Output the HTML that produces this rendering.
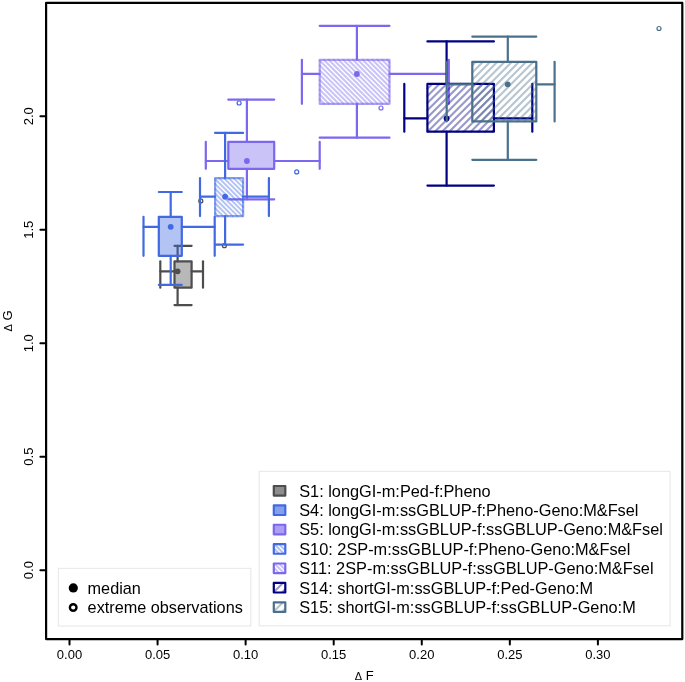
<!DOCTYPE html>
<html><head><meta charset="utf-8"><title>plot</title>
<style>html,body{margin:0;padding:0;background:#fff}svg{display:block;will-change:transform}text{font-family:"Liberation Sans",sans-serif;fill:#000}</style></head><body>
<svg width="685" height="682" viewBox="0 0 685 682">
<rect x="0" y="0" width="685" height="682" fill="#fff"/>
<rect x="46.1" y="2.9" width="636.1999999999999" height="636.2" fill="none" stroke="#000" stroke-width="2.2" stroke-linejoin="round"/>
<line x1="69.50" y1="639.1" x2="69.50" y2="644.6" stroke="#000" stroke-width="2" stroke-linecap="round"/>
<text x="69.50" y="658.7" font-size="13" text-anchor="middle">0.00</text>
<line x1="157.57" y1="639.1" x2="157.57" y2="644.6" stroke="#000" stroke-width="2" stroke-linecap="round"/>
<text x="157.57" y="658.7" font-size="13" text-anchor="middle">0.05</text>
<line x1="245.63" y1="639.1" x2="245.63" y2="644.6" stroke="#000" stroke-width="2" stroke-linecap="round"/>
<text x="245.63" y="658.7" font-size="13" text-anchor="middle">0.10</text>
<line x1="333.70" y1="639.1" x2="333.70" y2="644.6" stroke="#000" stroke-width="2" stroke-linecap="round"/>
<text x="333.70" y="658.7" font-size="13" text-anchor="middle">0.15</text>
<line x1="421.77" y1="639.1" x2="421.77" y2="644.6" stroke="#000" stroke-width="2" stroke-linecap="round"/>
<text x="421.77" y="658.7" font-size="13" text-anchor="middle">0.20</text>
<line x1="509.83" y1="639.1" x2="509.83" y2="644.6" stroke="#000" stroke-width="2" stroke-linecap="round"/>
<text x="509.83" y="658.7" font-size="13" text-anchor="middle">0.25</text>
<line x1="597.90" y1="639.1" x2="597.90" y2="644.6" stroke="#000" stroke-width="2" stroke-linecap="round"/>
<text x="597.90" y="658.7" font-size="13" text-anchor="middle">0.30</text>
<line x1="46.1" y1="570.15" x2="40.4" y2="570.15" stroke="#000" stroke-width="2" stroke-linecap="round"/>
<text transform="translate(33.4 570.15) rotate(-90)" font-size="13" text-anchor="middle">0.0</text>
<line x1="46.1" y1="456.67" x2="40.4" y2="456.67" stroke="#000" stroke-width="2" stroke-linecap="round"/>
<text transform="translate(33.4 456.67) rotate(-90)" font-size="13" text-anchor="middle">0.5</text>
<line x1="46.1" y1="343.20" x2="40.4" y2="343.20" stroke="#000" stroke-width="2" stroke-linecap="round"/>
<text transform="translate(33.4 343.20) rotate(-90)" font-size="13" text-anchor="middle">1.0</text>
<line x1="46.1" y1="229.73" x2="40.4" y2="229.73" stroke="#000" stroke-width="2" stroke-linecap="round"/>
<text transform="translate(33.4 229.73) rotate(-90)" font-size="13" text-anchor="middle">1.5</text>
<line x1="46.1" y1="116.25" x2="40.4" y2="116.25" stroke="#000" stroke-width="2" stroke-linecap="round"/>
<text transform="translate(33.4 116.25) rotate(-90)" font-size="13" text-anchor="middle">2.0</text>
<text x="364.2" y="679.6" font-size="13" text-anchor="middle"><tspan font-size="11">Δ</tspan> F</text>
<text transform="translate(12 321) rotate(-90)" font-size="13" text-anchor="middle"><tspan font-size="11">Δ</tspan> G</text>
<g>
<rect x="174.5" y="261.3" width="17.10" height="26.40" fill="#4d4d4d" fill-opacity="0.4" stroke="none"/>
<rect x="174.5" y="261.3" width="17.10" height="26.40" fill="none" stroke="#4d4d4d" stroke-width="2.2" stroke-linejoin="round"/>
<line x1="177.6" y1="245.8" x2="177.6" y2="261.3" stroke="#4d4d4d" stroke-width="2.2" stroke-linecap="round"/>
<line x1="177.6" y1="287.7" x2="177.6" y2="305.1" stroke="#4d4d4d" stroke-width="2.2" stroke-linecap="round"/>
<line x1="174.5" y1="245.8" x2="191.6" y2="245.8" stroke="#4d4d4d" stroke-width="2.2" stroke-linecap="round"/>
<line x1="174.5" y1="305.1" x2="191.6" y2="305.1" stroke="#4d4d4d" stroke-width="2.2" stroke-linecap="round"/>
<line x1="160.3" y1="271.3" x2="174.5" y2="271.3" stroke="#4d4d4d" stroke-width="2.2" stroke-linecap="round"/>
<line x1="191.6" y1="271.3" x2="203.0" y2="271.3" stroke="#4d4d4d" stroke-width="2.2" stroke-linecap="round"/>
<line x1="160.3" y1="261.3" x2="160.3" y2="287.7" stroke="#4d4d4d" stroke-width="2.2" stroke-linecap="round"/>
<line x1="203.0" y1="261.3" x2="203.0" y2="287.7" stroke="#4d4d4d" stroke-width="2.2" stroke-linecap="round"/>
<circle cx="177.6" cy="271.3" r="2.9" fill="#4d4d4d"/>
<circle cx="200.8" cy="200.9" r="2.0" fill="none" stroke="#4d4d4d" stroke-width="1.2"/>
<circle cx="224.4" cy="245.7" r="2.0" fill="none" stroke="#4d4d4d" stroke-width="1.2"/>
</g>
<g>
<rect x="158.8" y="216.8" width="23.00" height="39.00" fill="#4169e1" fill-opacity="0.4" stroke="none"/>
<rect x="158.8" y="216.8" width="23.00" height="39.00" fill="none" stroke="#4169e1" stroke-width="2.2" stroke-linejoin="round"/>
<line x1="170.7" y1="192.0" x2="170.7" y2="216.8" stroke="#4169e1" stroke-width="2.2" stroke-linecap="round"/>
<line x1="170.7" y1="255.8" x2="170.7" y2="284.8" stroke="#4169e1" stroke-width="2.2" stroke-linecap="round"/>
<line x1="158.8" y1="192.0" x2="181.8" y2="192.0" stroke="#4169e1" stroke-width="2.2" stroke-linecap="round"/>
<line x1="158.8" y1="284.8" x2="181.8" y2="284.8" stroke="#4169e1" stroke-width="2.2" stroke-linecap="round"/>
<line x1="143.5" y1="226.9" x2="158.8" y2="226.9" stroke="#4169e1" stroke-width="2.2" stroke-linecap="round"/>
<line x1="181.8" y1="226.9" x2="214.7" y2="226.9" stroke="#4169e1" stroke-width="2.2" stroke-linecap="round"/>
<line x1="143.5" y1="216.8" x2="143.5" y2="255.8" stroke="#4169e1" stroke-width="2.2" stroke-linecap="round"/>
<line x1="214.7" y1="216.8" x2="214.7" y2="255.8" stroke="#4169e1" stroke-width="2.2" stroke-linecap="round"/>
<circle cx="170.7" cy="226.8" r="2.9" fill="#4169e1"/>
<circle cx="239.1" cy="103.0" r="2.0" fill="none" stroke="#4169e1" stroke-width="1.2"/>
<circle cx="296.7" cy="171.9" r="2.0" fill="none" stroke="#4169e1" stroke-width="1.2"/>
</g>
<g>
<rect x="228.3" y="141.9" width="45.90" height="26.90" fill="#7b68ee" fill-opacity="0.4" stroke="none"/>
<rect x="228.3" y="141.9" width="45.90" height="26.90" fill="none" stroke="#7b68ee" stroke-width="2.2" stroke-linejoin="round"/>
<line x1="246.9" y1="99.6" x2="246.9" y2="141.9" stroke="#7b68ee" stroke-width="2.2" stroke-linecap="round"/>
<line x1="246.9" y1="168.8" x2="246.9" y2="199.3" stroke="#7b68ee" stroke-width="2.2" stroke-linecap="round"/>
<line x1="228.3" y1="99.6" x2="274.2" y2="99.6" stroke="#7b68ee" stroke-width="2.2" stroke-linecap="round"/>
<line x1="228.3" y1="199.3" x2="274.2" y2="199.3" stroke="#7b68ee" stroke-width="2.2" stroke-linecap="round"/>
<line x1="205.8" y1="161.0" x2="228.3" y2="161.0" stroke="#7b68ee" stroke-width="2.2" stroke-linecap="round"/>
<line x1="274.2" y1="161.0" x2="319.7" y2="161.0" stroke="#7b68ee" stroke-width="2.2" stroke-linecap="round"/>
<line x1="205.8" y1="141.9" x2="205.8" y2="168.8" stroke="#7b68ee" stroke-width="2.2" stroke-linecap="round"/>
<line x1="319.7" y1="141.9" x2="319.7" y2="168.8" stroke="#7b68ee" stroke-width="2.2" stroke-linecap="round"/>
<circle cx="246.9" cy="161.0" r="2.9" fill="#7b68ee"/>
</g>
<g>
<line x1="215.10" y1="212.97" x2="218.23" y2="216.10" stroke="#4169e1" stroke-opacity="0.4" stroke-width="2.0" stroke-linecap="round"/>
<line x1="215.10" y1="208.12" x2="223.08" y2="216.10" stroke="#4169e1" stroke-opacity="0.4" stroke-width="2.0" stroke-linecap="round"/>
<line x1="215.10" y1="203.27" x2="227.93" y2="216.10" stroke="#4169e1" stroke-opacity="0.4" stroke-width="2.0" stroke-linecap="round"/>
<line x1="215.10" y1="198.42" x2="232.78" y2="216.10" stroke="#4169e1" stroke-opacity="0.4" stroke-width="2.0" stroke-linecap="round"/>
<line x1="215.10" y1="193.57" x2="237.63" y2="216.10" stroke="#4169e1" stroke-opacity="0.4" stroke-width="2.0" stroke-linecap="round"/>
<line x1="215.10" y1="188.72" x2="242.48" y2="216.10" stroke="#4169e1" stroke-opacity="0.4" stroke-width="2.0" stroke-linecap="round"/>
<line x1="215.10" y1="183.87" x2="243.10" y2="211.87" stroke="#4169e1" stroke-opacity="0.4" stroke-width="2.0" stroke-linecap="round"/>
<line x1="215.10" y1="179.02" x2="243.10" y2="207.02" stroke="#4169e1" stroke-opacity="0.4" stroke-width="2.0" stroke-linecap="round"/>
<line x1="219.03" y1="178.10" x2="243.10" y2="202.17" stroke="#4169e1" stroke-opacity="0.4" stroke-width="2.0" stroke-linecap="round"/>
<line x1="223.88" y1="178.10" x2="243.10" y2="197.32" stroke="#4169e1" stroke-opacity="0.4" stroke-width="2.0" stroke-linecap="round"/>
<line x1="228.73" y1="178.10" x2="243.10" y2="192.47" stroke="#4169e1" stroke-opacity="0.4" stroke-width="2.0" stroke-linecap="round"/>
<line x1="233.58" y1="178.10" x2="243.10" y2="187.62" stroke="#4169e1" stroke-opacity="0.4" stroke-width="2.0" stroke-linecap="round"/>
<line x1="238.43" y1="178.10" x2="243.10" y2="182.77" stroke="#4169e1" stroke-opacity="0.4" stroke-width="2.0" stroke-linecap="round"/>
<rect x="215.1" y="178.1" width="28.00" height="38.00" fill="none" stroke="#4169e1" stroke-opacity="0.62" stroke-width="2.2" stroke-linejoin="round"/>
<line x1="225.1" y1="132.9" x2="225.1" y2="178.1" stroke="#4169e1" stroke-width="2.2" stroke-linecap="round"/>
<line x1="225.1" y1="216.1" x2="225.1" y2="244.6" stroke="#4169e1" stroke-width="2.2" stroke-linecap="round"/>
<line x1="215.1" y1="132.9" x2="243.1" y2="132.9" stroke="#4169e1" stroke-width="2.2" stroke-linecap="round"/>
<line x1="215.1" y1="244.6" x2="243.1" y2="244.6" stroke="#4169e1" stroke-width="2.2" stroke-linecap="round"/>
<line x1="200.0" y1="196.7" x2="215.1" y2="196.7" stroke="#4169e1" stroke-width="2.2" stroke-linecap="round"/>
<line x1="243.1" y1="196.7" x2="268.9" y2="196.7" stroke="#4169e1" stroke-width="2.2" stroke-linecap="round"/>
<line x1="200.0" y1="178.1" x2="200.0" y2="216.1" stroke="#4169e1" stroke-width="2.2" stroke-linecap="round"/>
<line x1="268.9" y1="178.1" x2="268.9" y2="216.1" stroke="#4169e1" stroke-width="2.2" stroke-linecap="round"/>
<circle cx="225.1" cy="196.7" r="2.9" fill="#4169e1"/>
</g>
<g>
<line x1="319.70" y1="99.32" x2="324.18" y2="103.80" stroke="#7b68ee" stroke-opacity="0.4" stroke-width="2.0" stroke-linecap="round"/>
<line x1="319.70" y1="94.47" x2="329.03" y2="103.80" stroke="#7b68ee" stroke-opacity="0.4" stroke-width="2.0" stroke-linecap="round"/>
<line x1="319.70" y1="89.62" x2="333.88" y2="103.80" stroke="#7b68ee" stroke-opacity="0.4" stroke-width="2.0" stroke-linecap="round"/>
<line x1="319.70" y1="84.77" x2="338.73" y2="103.80" stroke="#7b68ee" stroke-opacity="0.4" stroke-width="2.0" stroke-linecap="round"/>
<line x1="319.70" y1="79.92" x2="343.58" y2="103.80" stroke="#7b68ee" stroke-opacity="0.4" stroke-width="2.0" stroke-linecap="round"/>
<line x1="319.70" y1="75.07" x2="348.43" y2="103.80" stroke="#7b68ee" stroke-opacity="0.4" stroke-width="2.0" stroke-linecap="round"/>
<line x1="319.70" y1="70.22" x2="353.28" y2="103.80" stroke="#7b68ee" stroke-opacity="0.4" stroke-width="2.0" stroke-linecap="round"/>
<line x1="319.70" y1="65.37" x2="358.13" y2="103.80" stroke="#7b68ee" stroke-opacity="0.4" stroke-width="2.0" stroke-linecap="round"/>
<line x1="319.70" y1="60.52" x2="362.98" y2="103.80" stroke="#7b68ee" stroke-opacity="0.4" stroke-width="2.0" stroke-linecap="round"/>
<line x1="323.83" y1="59.80" x2="367.83" y2="103.80" stroke="#7b68ee" stroke-opacity="0.4" stroke-width="2.0" stroke-linecap="round"/>
<line x1="328.68" y1="59.80" x2="372.68" y2="103.80" stroke="#7b68ee" stroke-opacity="0.4" stroke-width="2.0" stroke-linecap="round"/>
<line x1="333.53" y1="59.80" x2="377.53" y2="103.80" stroke="#7b68ee" stroke-opacity="0.4" stroke-width="2.0" stroke-linecap="round"/>
<line x1="338.38" y1="59.80" x2="382.38" y2="103.80" stroke="#7b68ee" stroke-opacity="0.4" stroke-width="2.0" stroke-linecap="round"/>
<line x1="343.23" y1="59.80" x2="387.23" y2="103.80" stroke="#7b68ee" stroke-opacity="0.4" stroke-width="2.0" stroke-linecap="round"/>
<line x1="348.08" y1="59.80" x2="389.50" y2="101.22" stroke="#7b68ee" stroke-opacity="0.4" stroke-width="2.0" stroke-linecap="round"/>
<line x1="352.93" y1="59.80" x2="389.50" y2="96.37" stroke="#7b68ee" stroke-opacity="0.4" stroke-width="2.0" stroke-linecap="round"/>
<line x1="357.78" y1="59.80" x2="389.50" y2="91.52" stroke="#7b68ee" stroke-opacity="0.4" stroke-width="2.0" stroke-linecap="round"/>
<line x1="362.63" y1="59.80" x2="389.50" y2="86.67" stroke="#7b68ee" stroke-opacity="0.4" stroke-width="2.0" stroke-linecap="round"/>
<line x1="367.48" y1="59.80" x2="389.50" y2="81.82" stroke="#7b68ee" stroke-opacity="0.4" stroke-width="2.0" stroke-linecap="round"/>
<line x1="372.33" y1="59.80" x2="389.50" y2="76.97" stroke="#7b68ee" stroke-opacity="0.4" stroke-width="2.0" stroke-linecap="round"/>
<line x1="377.18" y1="59.80" x2="389.50" y2="72.12" stroke="#7b68ee" stroke-opacity="0.4" stroke-width="2.0" stroke-linecap="round"/>
<line x1="382.03" y1="59.80" x2="389.50" y2="67.27" stroke="#7b68ee" stroke-opacity="0.4" stroke-width="2.0" stroke-linecap="round"/>
<line x1="386.88" y1="59.80" x2="389.50" y2="62.42" stroke="#7b68ee" stroke-opacity="0.4" stroke-width="2.0" stroke-linecap="round"/>
<rect x="319.7" y="59.8" width="69.80" height="44.00" fill="none" stroke="#7b68ee" stroke-opacity="0.62" stroke-width="2.2" stroke-linejoin="round"/>
<line x1="356.9" y1="25.8" x2="356.9" y2="59.8" stroke="#7b68ee" stroke-width="2.2" stroke-linecap="round"/>
<line x1="356.9" y1="103.8" x2="356.9" y2="137.7" stroke="#7b68ee" stroke-width="2.2" stroke-linecap="round"/>
<line x1="319.7" y1="25.8" x2="389.5" y2="25.8" stroke="#7b68ee" stroke-width="2.2" stroke-linecap="round"/>
<line x1="319.7" y1="137.7" x2="389.5" y2="137.7" stroke="#7b68ee" stroke-width="2.2" stroke-linecap="round"/>
<line x1="301.9" y1="73.9" x2="319.7" y2="73.9" stroke="#7b68ee" stroke-width="2.2" stroke-linecap="round"/>
<line x1="389.5" y1="73.9" x2="448.8" y2="73.9" stroke="#7b68ee" stroke-width="2.2" stroke-linecap="round"/>
<line x1="301.9" y1="59.8" x2="301.9" y2="103.8" stroke="#7b68ee" stroke-width="2.2" stroke-linecap="round"/>
<line x1="448.8" y1="59.8" x2="448.8" y2="103.8" stroke="#7b68ee" stroke-width="2.2" stroke-linecap="round"/>
<circle cx="356.9" cy="74.0" r="2.9" fill="#7b68ee"/>
<circle cx="381.0" cy="108.0" r="2.0" fill="none" stroke="#7b68ee" stroke-width="1.2"/>
</g>
<g>
<line x1="432.20" y1="83.90" x2="427.40" y2="88.70" stroke="#000080" stroke-opacity="0.4" stroke-width="2.15" stroke-linecap="round"/>
<line x1="439.40" y1="83.90" x2="427.40" y2="95.90" stroke="#000080" stroke-opacity="0.4" stroke-width="2.15" stroke-linecap="round"/>
<line x1="446.60" y1="83.90" x2="427.40" y2="103.10" stroke="#000080" stroke-opacity="0.4" stroke-width="2.15" stroke-linecap="round"/>
<line x1="453.80" y1="83.90" x2="427.40" y2="110.30" stroke="#000080" stroke-opacity="0.4" stroke-width="2.15" stroke-linecap="round"/>
<line x1="461.00" y1="83.90" x2="427.40" y2="117.50" stroke="#000080" stroke-opacity="0.4" stroke-width="2.15" stroke-linecap="round"/>
<line x1="468.20" y1="83.90" x2="427.40" y2="124.70" stroke="#000080" stroke-opacity="0.4" stroke-width="2.15" stroke-linecap="round"/>
<line x1="475.40" y1="83.90" x2="427.60" y2="131.70" stroke="#000080" stroke-opacity="0.4" stroke-width="2.15" stroke-linecap="round"/>
<line x1="482.60" y1="83.90" x2="434.80" y2="131.70" stroke="#000080" stroke-opacity="0.4" stroke-width="2.15" stroke-linecap="round"/>
<line x1="489.80" y1="83.90" x2="442.00" y2="131.70" stroke="#000080" stroke-opacity="0.4" stroke-width="2.15" stroke-linecap="round"/>
<line x1="493.90" y1="87.00" x2="449.20" y2="131.70" stroke="#000080" stroke-opacity="0.4" stroke-width="2.15" stroke-linecap="round"/>
<line x1="493.90" y1="94.20" x2="456.40" y2="131.70" stroke="#000080" stroke-opacity="0.4" stroke-width="2.15" stroke-linecap="round"/>
<line x1="493.90" y1="101.40" x2="463.60" y2="131.70" stroke="#000080" stroke-opacity="0.4" stroke-width="2.15" stroke-linecap="round"/>
<line x1="493.90" y1="108.60" x2="470.80" y2="131.70" stroke="#000080" stroke-opacity="0.4" stroke-width="2.15" stroke-linecap="round"/>
<line x1="493.90" y1="115.80" x2="478.00" y2="131.70" stroke="#000080" stroke-opacity="0.4" stroke-width="2.15" stroke-linecap="round"/>
<line x1="493.90" y1="123.00" x2="485.20" y2="131.70" stroke="#000080" stroke-opacity="0.4" stroke-width="2.15" stroke-linecap="round"/>
<line x1="493.90" y1="130.20" x2="492.40" y2="131.70" stroke="#000080" stroke-opacity="0.4" stroke-width="2.15" stroke-linecap="round"/>
<rect x="427.4" y="83.9" width="66.50" height="47.80" fill="none" stroke="#000080" stroke-width="2.2" stroke-linejoin="round"/>
<line x1="446.6" y1="41.4" x2="446.6" y2="83.9" stroke="#000080" stroke-width="2.2" stroke-linecap="round"/>
<line x1="446.6" y1="131.7" x2="446.6" y2="185.6" stroke="#000080" stroke-width="2.2" stroke-linecap="round"/>
<line x1="427.4" y1="41.4" x2="493.9" y2="41.4" stroke="#000080" stroke-width="2.2" stroke-linecap="round"/>
<line x1="427.4" y1="185.6" x2="493.9" y2="185.6" stroke="#000080" stroke-width="2.2" stroke-linecap="round"/>
<line x1="404.3" y1="118.3" x2="427.4" y2="118.3" stroke="#000080" stroke-width="2.2" stroke-linecap="round"/>
<line x1="493.9" y1="118.3" x2="532.3" y2="118.3" stroke="#000080" stroke-width="2.2" stroke-linecap="round"/>
<line x1="404.3" y1="83.9" x2="404.3" y2="131.7" stroke="#000080" stroke-width="2.2" stroke-linecap="round"/>
<line x1="532.3" y1="83.9" x2="532.3" y2="131.7" stroke="#000080" stroke-width="2.2" stroke-linecap="round"/>
<circle cx="446.6" cy="118.4" r="2.9" fill="#000080"/>
</g>
<g>
<line x1="475.90" y1="61.80" x2="472.30" y2="65.40" stroke="#4a708b" stroke-opacity="0.4" stroke-width="2.15" stroke-linecap="round"/>
<line x1="483.10" y1="61.80" x2="472.30" y2="72.60" stroke="#4a708b" stroke-opacity="0.4" stroke-width="2.15" stroke-linecap="round"/>
<line x1="490.30" y1="61.80" x2="472.30" y2="79.80" stroke="#4a708b" stroke-opacity="0.4" stroke-width="2.15" stroke-linecap="round"/>
<line x1="497.50" y1="61.80" x2="472.30" y2="87.00" stroke="#4a708b" stroke-opacity="0.4" stroke-width="2.15" stroke-linecap="round"/>
<line x1="504.70" y1="61.80" x2="472.30" y2="94.20" stroke="#4a708b" stroke-opacity="0.4" stroke-width="2.15" stroke-linecap="round"/>
<line x1="511.90" y1="61.80" x2="472.30" y2="101.40" stroke="#4a708b" stroke-opacity="0.4" stroke-width="2.15" stroke-linecap="round"/>
<line x1="519.10" y1="61.80" x2="472.30" y2="108.60" stroke="#4a708b" stroke-opacity="0.4" stroke-width="2.15" stroke-linecap="round"/>
<line x1="526.30" y1="61.80" x2="472.30" y2="115.80" stroke="#4a708b" stroke-opacity="0.4" stroke-width="2.15" stroke-linecap="round"/>
<line x1="533.50" y1="61.80" x2="473.90" y2="121.40" stroke="#4a708b" stroke-opacity="0.4" stroke-width="2.15" stroke-linecap="round"/>
<line x1="536.30" y1="66.20" x2="481.10" y2="121.40" stroke="#4a708b" stroke-opacity="0.4" stroke-width="2.15" stroke-linecap="round"/>
<line x1="536.30" y1="73.40" x2="488.30" y2="121.40" stroke="#4a708b" stroke-opacity="0.4" stroke-width="2.15" stroke-linecap="round"/>
<line x1="536.30" y1="80.60" x2="495.50" y2="121.40" stroke="#4a708b" stroke-opacity="0.4" stroke-width="2.15" stroke-linecap="round"/>
<line x1="536.30" y1="87.80" x2="502.70" y2="121.40" stroke="#4a708b" stroke-opacity="0.4" stroke-width="2.15" stroke-linecap="round"/>
<line x1="536.30" y1="95.00" x2="509.90" y2="121.40" stroke="#4a708b" stroke-opacity="0.4" stroke-width="2.15" stroke-linecap="round"/>
<line x1="536.30" y1="102.20" x2="517.10" y2="121.40" stroke="#4a708b" stroke-opacity="0.4" stroke-width="2.15" stroke-linecap="round"/>
<line x1="536.30" y1="109.40" x2="524.30" y2="121.40" stroke="#4a708b" stroke-opacity="0.4" stroke-width="2.15" stroke-linecap="round"/>
<line x1="536.30" y1="116.60" x2="531.50" y2="121.40" stroke="#4a708b" stroke-opacity="0.4" stroke-width="2.15" stroke-linecap="round"/>
<rect x="472.3" y="61.8" width="64.00" height="59.60" fill="none" stroke="#4a708b" stroke-width="2.2" stroke-linejoin="round"/>
<line x1="507.8" y1="36.6" x2="507.8" y2="61.8" stroke="#4a708b" stroke-width="2.2" stroke-linecap="round"/>
<line x1="507.8" y1="121.4" x2="507.8" y2="159.8" stroke="#4a708b" stroke-width="2.2" stroke-linecap="round"/>
<line x1="472.3" y1="36.6" x2="536.3" y2="36.6" stroke="#4a708b" stroke-width="2.2" stroke-linecap="round"/>
<line x1="472.3" y1="159.8" x2="536.3" y2="159.8" stroke="#4a708b" stroke-width="2.2" stroke-linecap="round"/>
<line x1="446.7" y1="84.3" x2="472.3" y2="84.3" stroke="#4a708b" stroke-width="2.2" stroke-linecap="round"/>
<line x1="536.3" y1="84.3" x2="554.6" y2="84.3" stroke="#4a708b" stroke-width="2.2" stroke-linecap="round"/>
<line x1="446.7" y1="61.8" x2="446.7" y2="121.4" stroke="#4a708b" stroke-width="2.2" stroke-linecap="round"/>
<line x1="554.6" y1="61.8" x2="554.6" y2="121.4" stroke="#4a708b" stroke-width="2.2" stroke-linecap="round"/>
<circle cx="507.7" cy="84.3" r="2.9" fill="#4a708b"/>
<circle cx="659.0" cy="28.5" r="2.0" fill="none" stroke="#4a708b" stroke-width="1.2"/>
</g>
<rect x="58.5" y="568.4" width="192.3" height="57.6" fill="#fff" stroke="#eaeaea" stroke-width="1.2"/>
<circle cx="73.3" cy="587.9" r="4.6" fill="#000"/>
<circle cx="73.2" cy="607.5" r="3.3" fill="#fff" stroke="#000" stroke-width="2.4"/>
<text transform="translate(87.6 593.5) scale(1.0156 1)" font-size="16">median</text>
<text transform="translate(87.6 612.8) scale(1.0156 1)" font-size="16">extreme observations</text>
<rect x="259.2" y="471.4" width="410.9" height="154.4" fill="#fff" stroke="#eaeaea" stroke-width="1.2"/>
<rect x="273.8" y="486.00" width="11.50" height="9.60" fill="#4d4d4d" fill-opacity="0.64" stroke="none"/>
<rect x="273.8" y="486.00" width="11.50" height="9.60" fill="none" stroke="#4d4d4d" stroke-width="2.2" stroke-linejoin="round"/>
<text transform="translate(299.2 496.70) scale(1.021 1)" font-size="16">S1: longGI-m:Ped-f:Pheno</text>
<rect x="273.8" y="505.38" width="11.50" height="9.60" fill="#4169e1" fill-opacity="0.64" stroke="none"/>
<rect x="273.8" y="505.38" width="11.50" height="9.60" fill="none" stroke="#4169e1" stroke-width="2.2" stroke-linejoin="round"/>
<text transform="translate(299.2 516.08) scale(1.021 1)" font-size="16">S4: longGI-m:ssGBLUP-f:Pheno-Geno:M&amp;Fsel</text>
<rect x="273.8" y="524.76" width="11.50" height="9.60" fill="#7b68ee" fill-opacity="0.64" stroke="none"/>
<rect x="273.8" y="524.76" width="11.50" height="9.60" fill="none" stroke="#7b68ee" stroke-width="2.2" stroke-linejoin="round"/>
<text transform="translate(299.2 535.46) scale(1.021 1)" font-size="16">S5: longGI-m:ssGBLUP-f:ssGBLUP-Geno:M&amp;Fsel</text>
<g><clipPath id="c3"><rect x="273.8" y="544.14" width="11.50" height="9.60"/></clipPath>
<g clip-path="url(#c3)" stroke="#4169e1" stroke-opacity="0.42" stroke-width="2">
<line x1="252.54" y1="541.14" x2="268.14" y2="556.74"/>
<line x1="257.24" y1="541.14" x2="272.84" y2="556.74"/>
<line x1="261.94" y1="541.14" x2="277.54" y2="556.74"/>
<line x1="266.64" y1="541.14" x2="282.24" y2="556.74"/>
<line x1="271.34" y1="541.14" x2="286.94" y2="556.74"/>
<line x1="276.04" y1="541.14" x2="291.64" y2="556.74"/>
<line x1="280.74" y1="541.14" x2="296.34" y2="556.74"/>
<line x1="285.44" y1="541.14" x2="301.04" y2="556.74"/>
<line x1="290.14" y1="541.14" x2="305.74" y2="556.74"/>
</g>
<rect x="273.8" y="544.14" width="11.50" height="9.60" fill="none" stroke="#4169e1" stroke-width="2.2" stroke-linejoin="round"/></g>
<text transform="translate(299.2 554.84) scale(1.021 1)" font-size="16">S10: 2SP-m:ssGBLUP-f:Pheno-Geno:M&amp;Fsel</text>
<g><clipPath id="c4"><rect x="273.8" y="563.52" width="11.50" height="9.60"/></clipPath>
<g clip-path="url(#c4)" stroke="#7b68ee" stroke-opacity="0.42" stroke-width="2">
<line x1="252.54" y1="560.52" x2="268.14" y2="576.12"/>
<line x1="257.24" y1="560.52" x2="272.84" y2="576.12"/>
<line x1="261.94" y1="560.52" x2="277.54" y2="576.12"/>
<line x1="266.64" y1="560.52" x2="282.24" y2="576.12"/>
<line x1="271.34" y1="560.52" x2="286.94" y2="576.12"/>
<line x1="276.04" y1="560.52" x2="291.64" y2="576.12"/>
<line x1="280.74" y1="560.52" x2="296.34" y2="576.12"/>
<line x1="285.44" y1="560.52" x2="301.04" y2="576.12"/>
<line x1="290.14" y1="560.52" x2="305.74" y2="576.12"/>
</g>
<rect x="273.8" y="563.52" width="11.50" height="9.60" fill="none" stroke="#7b68ee" stroke-width="2.2" stroke-linejoin="round"/></g>
<text transform="translate(299.2 574.22) scale(1.021 1)" font-size="16">S11: 2SP-m:ssGBLUP-f:ssGBLUP-Geno:M&amp;Fsel</text>
<g><clipPath id="c5"><rect x="273.8" y="582.90" width="11.50" height="9.60"/></clipPath>
<g clip-path="url(#c5)" stroke="#000080" stroke-opacity="0.42" stroke-width="2">
<line x1="277.40" y1="579.90" x2="261.80" y2="595.50"/>
<line x1="286.00" y1="579.90" x2="270.40" y2="595.50"/>
<line x1="294.60" y1="579.90" x2="279.00" y2="595.50"/>
</g>
<rect x="273.8" y="582.90" width="11.50" height="9.60" fill="none" stroke="#000080" stroke-width="2.2" stroke-linejoin="round"/></g>
<text transform="translate(299.2 593.60) scale(1.021 1)" font-size="16">S14: shortGI-m:ssGBLUP-f:Ped-Geno:M</text>
<g><clipPath id="c6"><rect x="273.8" y="602.28" width="11.50" height="9.60"/></clipPath>
<g clip-path="url(#c6)" stroke="#4a708b" stroke-opacity="0.42" stroke-width="2">
<line x1="277.40" y1="599.28" x2="261.80" y2="614.88"/>
<line x1="286.00" y1="599.28" x2="270.40" y2="614.88"/>
<line x1="294.60" y1="599.28" x2="279.00" y2="614.88"/>
</g>
<rect x="273.8" y="602.28" width="11.50" height="9.60" fill="none" stroke="#4a708b" stroke-width="2.2" stroke-linejoin="round"/></g>
<text transform="translate(299.2 612.98) scale(1.021 1)" font-size="16">S15: shortGI-m:ssGBLUP-f:ssGBLUP-Geno:M</text>
</svg></body></html>
